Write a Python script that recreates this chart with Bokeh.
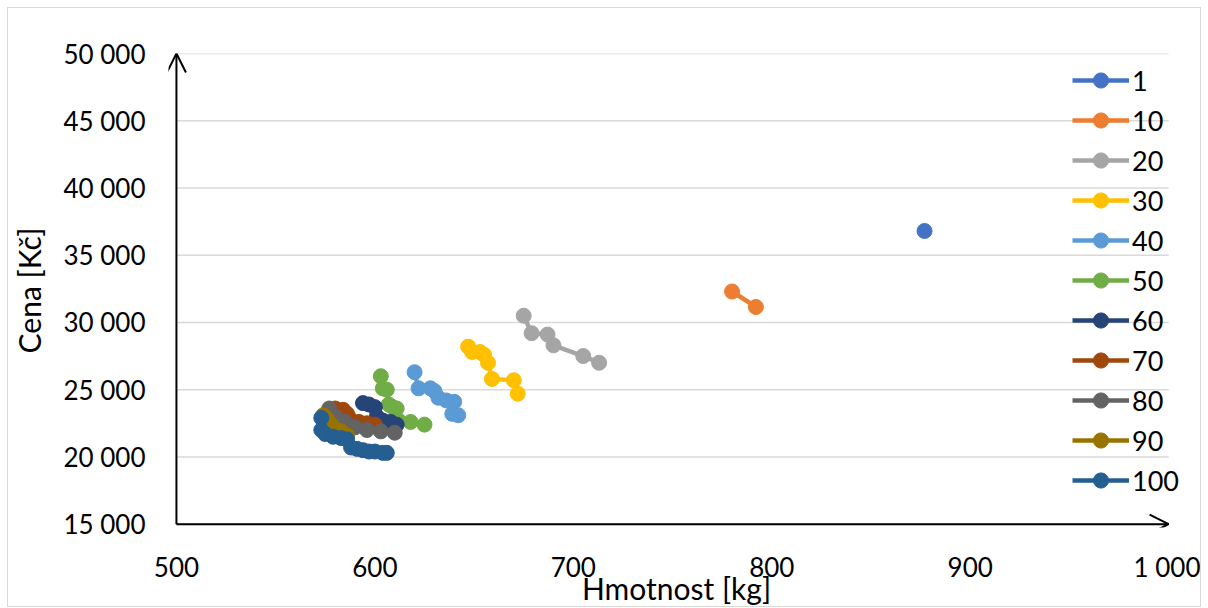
from bokeh.plotting import figure
from bokeh.models import (Range1d, FixedTicker, CustomJSTickFormatter, Arrow, OpenHead,
                          Legend, LegendItem)
from bokeh.embed import file_html
from bokeh.resources import INLINE

# ---- data ----
series_names = ["1", "10", "20", "30", "40", "50", "60", "70", "80", "90", "100"]
series_colors = ["#4472C4", "#ED7D31", "#A5A5A5", "#FFC000", "#5B9BD5", "#70AD47",
                 "#264478", "#9E480E", "#636363", "#997300", "#255E91"]

mass_1 = [877]
price_1 = [36800]

mass_10 = [780, 792]
price_10 = [32300, 31150]

mass_20 = [675, 679, 687, 690, 705, 713]
price_20 = [30500, 29200, 29100, 28300, 27500, 27000]

mass_30 = [647, 649, 653, 655, 657, 659, 670, 672]
price_30 = [28200, 27800, 27800, 27600, 27000, 25800, 25700, 24700]

mass_40 = [620, 622, 628, 630, 632, 636, 640, 639, 642]
price_40 = [26300, 25100, 25100, 24900, 24400, 24200, 24100, 23200, 23100]

mass_50 = [603, 604, 606, 607, 609, 611, 612, 618, 625]
price_50 = [26000, 25100, 25000, 23900, 23700, 23600, 22700, 22600, 22400]

mass_60 = [594, 597, 600, 601, 604, 608, 611]
price_60 = [24000, 23900, 23700, 23000, 22700, 22600, 22400]

mass_70 = [580, 584, 586, 587, 592, 596, 600]
price_70 = [23600, 23500, 23200, 22900, 22600, 22500, 22400]

mass_80 = [577, 580, 585, 590, 596, 603, 610]
price_80 = [23600, 23000, 22600, 22200, 22000, 21900, 21800]

mass_90 = [574, 576, 578, 580, 583, 586]
price_90 = [23100, 22800, 22400, 22100, 21900, 21600]

mass_100 = [573, 573, 575, 579, 583, 586, 588, 591, 594, 597, 600, 604, 606]
price_100 = [22900, 22000, 21700, 21500, 21400, 21300, 20700, 20600, 20500, 20400, 20400, 20300, 20300]

all_mass = [mass_1, mass_10, mass_20, mass_30, mass_40, mass_50, mass_60, mass_70,
            mass_80, mass_90, mass_100]
all_price = [price_1, price_10, price_20, price_30, price_40, price_50, price_60, price_70,
             price_80, price_90, price_100]

x_ticks = [500, 600, 700, 800, 900, 1000]
y_ticks = [15000, 20000, 25000, 30000, 35000, 40000, 45000, 50000]

FONT = "Lato"

p = figure(width=1194, height=600, output_backend="svg", toolbar_location=None,
           x_range=Range1d(496, 1008), y_range=Range1d(14750, 50000),
           min_border_left=150, min_border_right=18, min_border_top=45, min_border_bottom=0)
p.styles = {"border": "1px solid #d9d9d9", "margin-left": "7px", "margin-top": "7px"}
p.outline_line_color = None
p.background_fill_color = "white"
p.border_fill_color = "white"

fmt = CustomJSTickFormatter(code="return tick.toFixed(0).replace(/\\B(?=(\\d{3})+(?!\\d))/g, ' ');")

for ax in (p.xaxis, p.yaxis):
    ax.axis_line_color = None
    ax.major_tick_line_color = None
    ax.minor_tick_line_color = None
    ax.major_label_text_font = FONT
    ax.major_label_text_font_size = "26px"
    ax.major_label_text_color = "#000000"
    ax.axis_label_text_font = FONT
    ax.axis_label_text_font_size = "30px"
    ax.axis_label_text_font_style = "normal"
    ax.axis_label_text_color = "#000000"
    ax.formatter = fmt

p.xaxis.ticker = FixedTicker(ticks=x_ticks)
p.yaxis.ticker = FixedTicker(ticks=y_ticks)
p.xaxis.major_label_standoff = 17
p.yaxis.major_label_standoff = 17
p.xaxis.axis_label = "Hmotnost [kg]"
p.yaxis.axis_label = "Cena [Kč]"
p.xaxis.axis_label_standoff = -16
p.yaxis.axis_label_standoff = 13

p.xgrid.grid_line_color = None
p.ygrid.grid_line_color = None

# horizontal gridlines spanning the axis extent (500 .. 1000)
p.segment(x0=[x_ticks[0]] * len(y_ticks), x1=[x_ticks[-1]] * len(y_ticks),
          y0=y_ticks, y1=y_ticks, line_color="#D9D9D9", line_width=1.5)

items = []
for name, color, xs, ys in zip(series_names, series_colors, all_mass, all_price):
    r1 = p.line(xs, ys, line_color=color, line_width=4.5)
    r2 = p.scatter(xs, ys, marker="circle", size=15, fill_color=color, line_color=color)
    items.append(LegendItem(label=name, renderers=[r1, r2]))

legend = Legend(items=items, location=(904, 28), orientation="vertical",
                background_fill_alpha=0, border_line_color=None,
                label_text_font=FONT, label_text_font_size="27px", label_text_color="#000000",
                glyph_width=57, glyph_height=38, label_standoff=3, spacing=2,
                padding=0, margin=0, label_height=20)
p.add_layout(legend, "center")

p.add_layout(Arrow(end=OpenHead(size=19, line_width=2, line_color="black"),
                   x_start=x_ticks[0], y_start=y_ticks[0], x_end=x_ticks[0], y_end=y_ticks[-1],
                   line_width=2, line_color="black"))
p.add_layout(Arrow(end=OpenHead(size=19, line_width=2, line_color="black"),
                   x_start=x_ticks[0], y_start=y_ticks[0], x_end=x_ticks[-1], y_end=y_ticks[0],
                   line_width=2, line_color="black"))

open("out.html", "w").write(file_html(p, INLINE))
